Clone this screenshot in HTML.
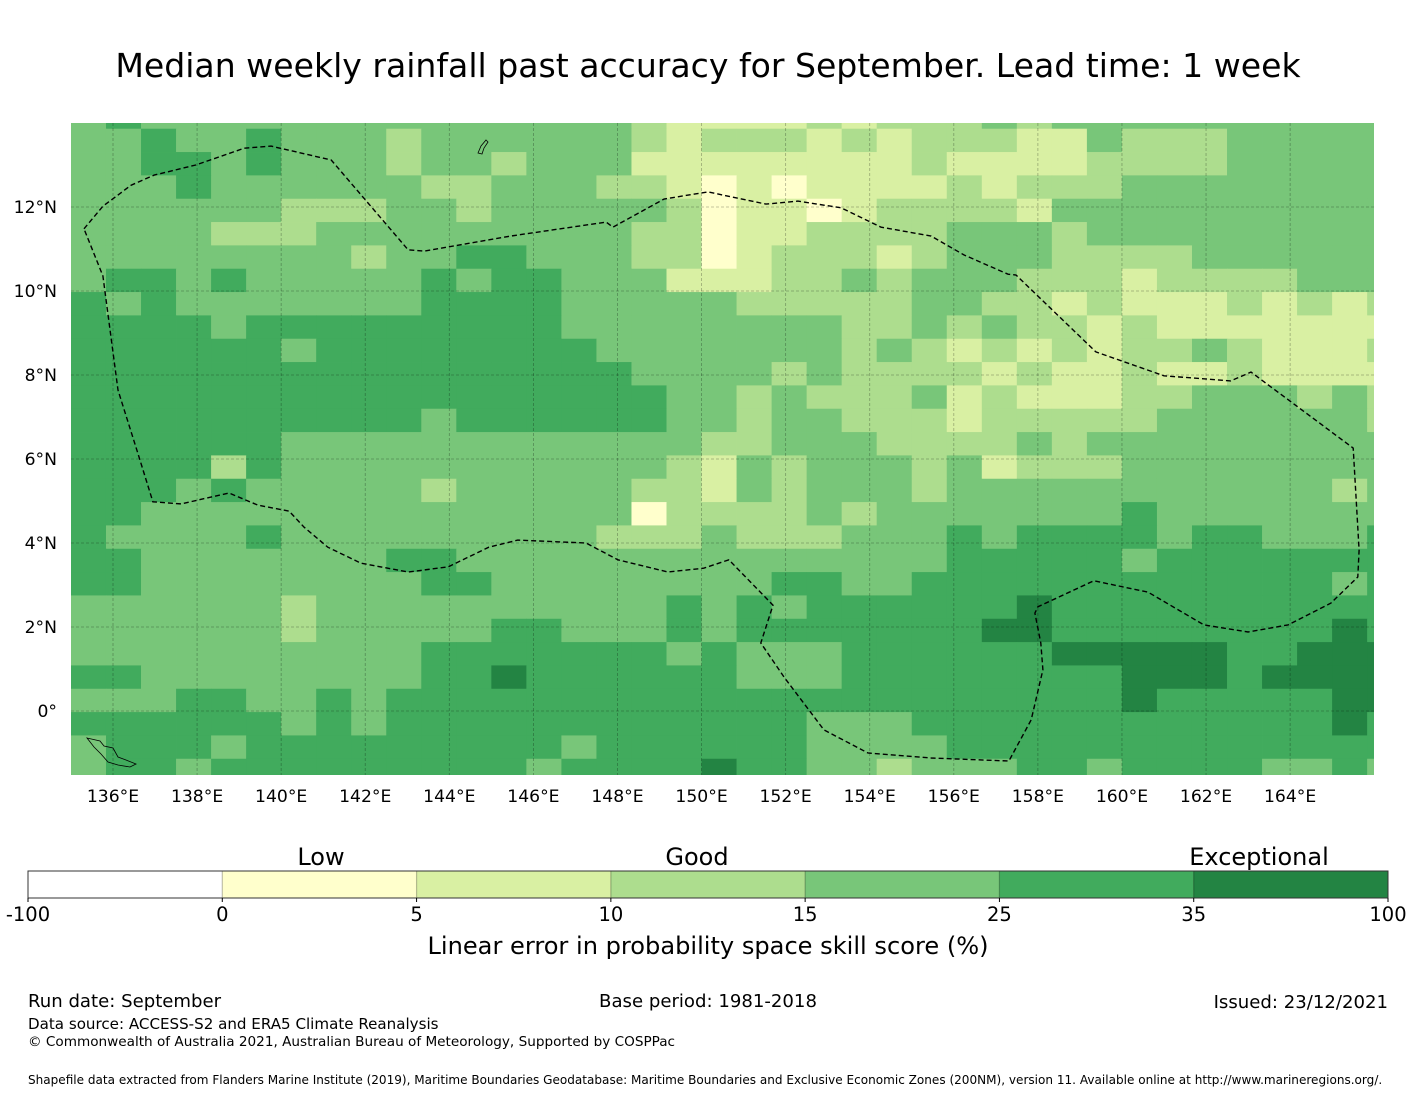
<!DOCTYPE html>
<html><head><meta charset="utf-8">
<style>
html,body{margin:0;padding:0;background:#fff;}
body{width:1416px;height:1095px;overflow:hidden;font-family:"DejaVu Sans","Liberation Sans",sans-serif;}
svg text{font-family:"DejaVu Sans","Liberation Sans",sans-serif;fill:#000;}
</style></head>
<body>
<svg id="chart" width="1416" height="1095" viewBox="0 0 1416 1095" xmlns="http://www.w3.org/2000/svg">
<text x="708" y="77" font-size="33.1" text-anchor="middle">Median weekly rainfall past accuracy for September. Lead time: 1 week</text>
<defs><clipPath id="mapclip"><rect x="71" y="123" width="1303" height="652"/></clipPath></defs>
<g id="map" clip-path="url(#mapclip)"></g>
<g id="grid"></g>
<g id="eez"></g>
<g id="axes"></g>
<g id="cbar"></g>
<text x="321" y="865" font-size="24" text-anchor="middle">Low</text>
<text x="697" y="865" font-size="24" text-anchor="middle">Good</text>
<text x="1259" y="865" font-size="24" text-anchor="middle">Exceptional</text>
<text x="708" y="954" font-size="24.1" text-anchor="middle">Linear error in probability space skill score (%)</text>
<text x="28" y="1007" font-size="18.1">Run date: September</text>
<text x="708" y="1007" font-size="18.1" text-anchor="middle">Base period: 1981-2018</text>
<text x="1388" y="1008" font-size="18.1" text-anchor="end">Issued: 23/12/2021</text>
<text x="28" y="1029" font-size="15.1">Data source: ACCESS-S2 and ERA5 Climate Reanalysis</text>
<text x="28" y="1046" font-size="13.6">© Commonwealth of Australia 2021, Australian Bureau of Meteorology, Supported by COSPPac</text>
<text x="28" y="1084" font-size="12.05">Shapefile data extracted from Flanders Marine Institute (2019), Maritime Boundaries Geodatabase: Maritime Boundaries and Exclusive Economic Zones (200NM), version 11. Available online at http://www.marineregions.org/.</text>
</svg>
<script>
// ---- data ----
var classColors = ["#ffffff","#ffffcc","#d9f0a3","#addd8e","#78c679","#41ab5d","#238443"];
var classBounds = ["-100","0","5","10","15","25","35","100"];
var lonTicks = [136,138,140,142,144,146,148,150,152,154,156,158,160,162,164];
var latTicks = [12,10,8,6,4,2,0];
var lon0 = 135.0, dLon = 0.8333;
var latTop = 13.864, dLat = 0.5556;
// skill class per grid cell, rows north -> south (row 0 partial strip at top)
var skillRows = [
"4544444444444"+"444322223233"+"3434444444444",
"4454454443444"+"444323332323"+"3322433344444",
"4455454443443"+"444222222223"+"2222333344444",
"4445444444334"+"443321212222"+"3233344444444",
"4444443334434"+"444431221233"+"3324444444444",
"4444333444444"+"444331223333"+"4443444444444",
"4444444434455"+"444331233323"+"4443333444444",
"4554544444545"+"544422233434"+"4433323333444",
"5454444444555"+"544444333334"+"4332322232323",
"5555455555555"+"544444444334"+"3433232222222",
"5555554555555"+"554444444343"+"2323233432223",
"5555555555555"+"555444434333"+"3232232232222",
"5555555555555"+"555544343334"+"2322233444343",
"5555555555455"+"555544344333"+"2333334444443",
"5555554444444"+"444443344433"+"3343444444444",
"5555354444444"+"444432434443"+"4233344444444",
"5554544444344"+"444332434443"+"4444444444434",
"5544444444444"+"444133334344"+"4444454444444",
"5444454444444"+"443334333444"+"5455554554445",
"5544444445544"+"444444444444"+"5555545555555",
"5544444444554"+"444444455445"+"5555555555545",
"4444443444444"+"444454545555"+"5565555555555",
"4444443444445"+"544454555555"+"5665555555565",
"4444444444555"+"555545444555"+"5556666655666",
"5544444444556"+"555555444555"+"5555566656666",
"4445544545555"+"555555555555"+"5555565555566",
"5555554545555"+"555555554445"+"5555555555565",
"4555455555555"+"545555554444"+"5555555555555",
"4554555555555"+"455556554434"+"4455455554454"
];
var eezLon = [135.31,135.76,136.43,136.98,137.97,139.12,139.76,141.19,143.02,143.40,145.47,147.73,147.89,149.11,150.15,151.53,152.29,153.32,154.27,155.46,156.24,157.29,157.48,159.38,161.0,162.59,163.07,165.5,165.64,165.61,164.97,163.95,163.0,161.95,160.62,159.33,158.0,157.93,158.07,158.12,157.84,157.31,155.46,153.96,152.91,151.96,151.41,151.70,150.65,150.05,149.20,148.01,147.25,145.63,144.94,143.97,143.02,141.90,141.11,140.54,140.19,139.45,138.76,137.62,136.95,136.59,136.12,135.76,135.31];
var eezLat = [11.48,12.02,12.52,12.76,13.0,13.40,13.45,13.12,10.98,10.95,11.31,11.64,11.52,12.19,12.36,12.07,12.14,11.98,11.52,11.31,10.86,10.40,10.38,8.55,7.98,7.86,8.07,6.26,3.83,3.19,2.57,2.05,1.88,2.05,2.83,3.10,2.48,2.33,1.62,0.98,-0.21,-1.19,-1.12,-1.0,-0.45,0.81,1.62,2.52,3.60,3.40,3.31,3.60,4.0,4.07,3.90,3.43,3.31,3.52,3.90,4.38,4.76,4.90,5.19,4.93,4.98,6.14,7.64,10.36,11.48];
// ---- scales ----
function xS(lon){ return 113 + (lon-136)*42.04; }
function yS(lat){ return 207 - (lat-12)*42.0; }
var NS="http://www.w3.org/2000/svg";
function mk(tag, attrs, parent){ var e=document.createElementNS(NS,tag); for(var k in attrs) e.setAttribute(k,attrs[k]); parent.appendChild(e); return e; }

// ---- heatmap cells ----
var map=document.getElementById('map');
for(var r=0;r<skillRows.length;r++){
  var rowStr=skillRows[r];
  for(var c=0;c<rowStr.length;c++){
    var cls=+rowStr[c];
    var lonA=lon0+c*dLon, lonB=lonA+dLon;
    var latA, latB;
    if(r===0){ latA=14.2; latB=latTop; } else { latA=latTop-(r-1)*dLat; latB=latA-dLat; }
    var x1=xS(lonA), x2=xS(lonB), y1=yS(latA), y2=yS(latB);
    var cell=mk('rect',{x:x1.toFixed(2),y:y1.toFixed(2),width:(x2-x1+0.4).toFixed(2),height:(y2-y1+0.4).toFixed(2),fill:classColors[cls]},map);
    
    
  }
}
// ---- gridlines ----
var grid=document.getElementById('grid');
lonTicks.forEach(function(L){
  var l=mk('line',{x1:xS(L),x2:xS(L),y1:123,y2:775,stroke:'#000','stroke-opacity':0.3,'stroke-width':0.8,'stroke-dasharray':'3,2'},grid);
  
  
});
latTicks.forEach(function(L){
  var l=mk('line',{x1:71,x2:1374,y1:yS(L),y2:yS(L),stroke:'#000','stroke-opacity':0.3,'stroke-width':0.8,'stroke-dasharray':'3,2'},grid);
  
  
});
// ---- EEZ boundary ----
var eez=document.getElementById('eez');
var pts=eezLon.map(function(L,i){ return xS(L).toFixed(1)+','+yS(eezLat[i]).toFixed(1); }).join(' ');
var pl=mk('polyline',{points:pts,fill:'none',stroke:'#000','stroke-width':1.4,'stroke-dasharray':'5,3'},eez);


// small islands
var isl=mk('path',{d:'M87,738 L100,741 L104,746 L113,748 L118,757 L126,760 L136,764 L130,767 L118,765 L108,762 L101,754 L94,747 Z',fill:'none',stroke:'#000','stroke-width':0.8},eez);


var guam=mk('path',{d:'M478,153 L481,146 L486,140 L488,142 L484,148 L482,154 Z',fill:'none',stroke:'#000','stroke-width':0.8},eez);


// ---- axes labels ----
var axes=document.getElementById('axes');
lonTicks.forEach(function(L){
  var t=mk('text',{x:xS(L),y:802,'font-size':17.2,'text-anchor':'middle'},axes);
  t.textContent=L+'°E';
  
  
});
latTicks.forEach(function(L){
  var t=mk('text',{x:57,y:yS(L)+6,'font-size':17.2,'text-anchor':'end'},axes);
  t.textContent=L===0?'0°':L+'°N';
  
  
});
// ---- colorbar ----
var cb=document.getElementById('cbar');
var cbX=28, cbW=1360, cbY=871, cbH=27, seg=cbW/7;
for(var i=0;i<7;i++){
  var s=mk('rect',{x:cbX+i*seg,y:cbY,width:seg+0.5,height:cbH,fill:classColors[i]},cb);
  
  
  if(i>0){
    var d=mk('line',{x1:cbX+i*seg,x2:cbX+i*seg,y1:cbY,y2:cbY+cbH,stroke:'#000','stroke-opacity':0.25,'stroke-width':1.2},cb);
    
    
  }
}
var fr=mk('rect',{x:cbX,y:cbY,width:cbW,height:cbH,fill:'none',stroke:'#333','stroke-width':1},cb);


classBounds.forEach(function(b,i){
  var tk=mk('line',{x1:cbX+i*seg,x2:cbX+i*seg,y1:cbY+cbH,y2:cbY+cbH+4,stroke:'#000','stroke-width':1},cb);
  
  
  var t=mk('text',{x:cbX+i*seg,y:921,'font-size':19.5,'text-anchor':'middle'},cb);
  t.textContent=b;
  
  
});
</script>
</body></html>
